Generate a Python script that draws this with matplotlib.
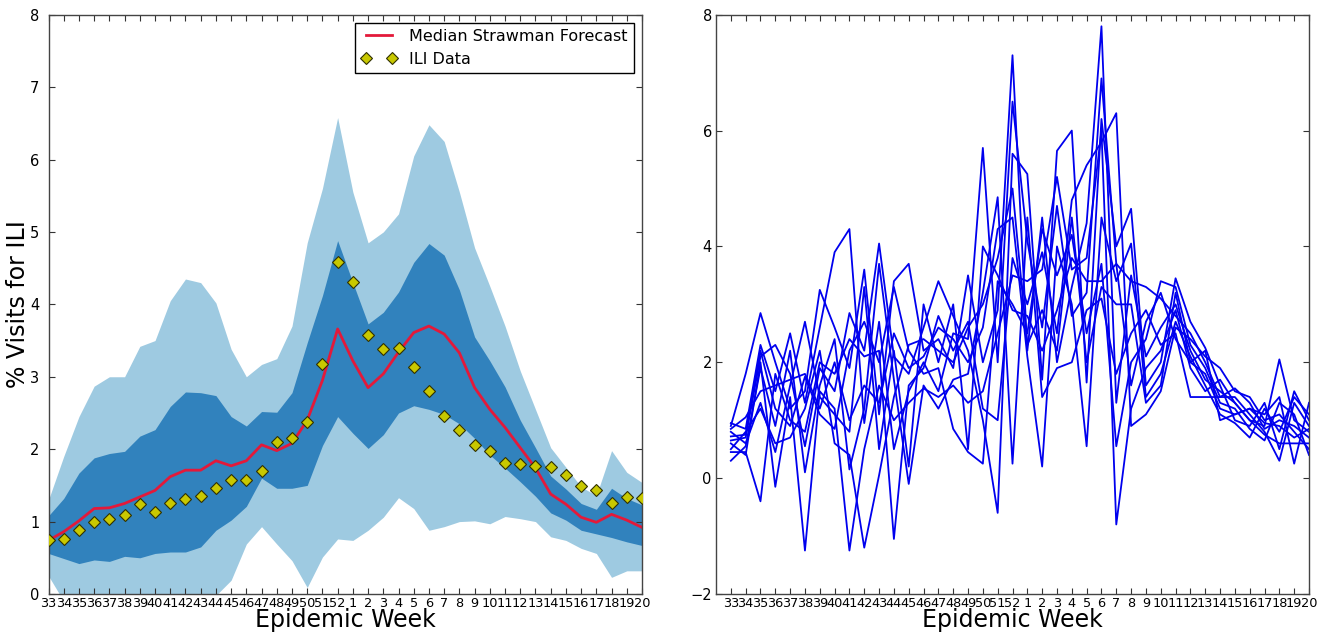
import matplotlib
matplotlib.use("Agg")
import matplotlib.pyplot as plt
import numpy as np

# Epidemic weeks of the season (33..52, then 1..20)
week_labels = [str(w) for w in list(range(33, 53)) + list(range(1, 21))]

# Observed ILI (% of visits)
ili_data = [0.74, 0.76, 0.88, 0.99, 1.04, 1.09, 1.24, 1.13, 1.26, 1.31,
            1.36, 1.46, 1.57, 1.58, 1.70, 2.10, 2.15, 2.37, 3.18, 4.59,
            4.31, 3.57, 3.38, 3.40, 3.13, 2.81, 2.46, 2.27, 2.06, 1.98,
            1.81, 1.79, 1.77, 1.75, 1.65, 1.49, 1.43, 1.25, 1.34, 1.33]

# Median strawman forecast
median_forecast = [0.74, 0.86, 1.01, 1.18, 1.19, 1.25, 1.34, 1.43, 1.62, 1.71,
                   1.71, 1.84, 1.77, 1.84, 2.06, 1.98, 2.08, 2.40, 2.95, 3.66,
                   3.22, 2.85, 3.04, 3.34, 3.61, 3.70, 3.59, 3.33, 2.85, 2.55,
                   2.30, 2.02, 1.74, 1.38, 1.24, 1.06, 0.99, 1.10, 1.02, 0.92]

# Inner (dark) interval
inner_upper = [1.08, 1.32, 1.67, 1.88, 1.94, 1.97, 2.18, 2.27, 2.59, 2.79,
               2.78, 2.74, 2.45, 2.32, 2.52, 2.51, 2.78, 3.47, 4.12, 4.88,
               4.30, 3.73, 3.89, 4.17, 4.58, 4.84, 4.68, 4.20, 3.55, 3.22,
               2.86, 2.40, 2.02, 1.63, 1.45, 1.25, 1.17, 1.46, 1.32, 1.23]
inner_lower = [0.56, 0.49, 0.42, 0.47, 0.45, 0.52, 0.50, 0.56, 0.58, 0.58,
               0.65, 0.88, 1.02, 1.21, 1.60, 1.46, 1.46, 1.50, 2.05, 2.45,
               2.22, 2.01, 2.20, 2.50, 2.60, 2.55, 2.48, 2.35, 2.15, 1.92,
               1.74, 1.55, 1.35, 1.12, 1.02, 0.88, 0.83, 0.78, 0.72, 0.67]

# Outer (light) interval
outer_upper = [1.30, 1.90, 2.45, 2.87, 3.00, 3.00, 3.42, 3.50, 4.05, 4.35,
               4.30, 4.02, 3.38, 3.00, 3.17, 3.25, 3.70, 4.85, 5.60, 6.58,
               5.55, 4.85, 5.00, 5.25, 6.05, 6.48, 6.25, 5.55, 4.78, 4.25,
               3.70, 3.08, 2.55, 2.02, 1.75, 1.48, 1.36, 1.98, 1.68, 1.54]
outer_lower = [0.25, -0.10, -0.30, -0.40, -0.40, -0.35, -0.40, -0.35, -0.30, -0.30,
               -0.25, -0.02, 0.19, 0.69, 0.93, 0.69, 0.46, 0.09, 0.51, 0.76,
               0.74, 0.88, 1.06, 1.33, 1.18, 0.88, 0.93, 1.00, 1.01, 0.97,
               1.07, 1.04, 1.00, 0.79, 0.74, 0.63, 0.56, 0.23, 0.32, 0.32]

# Sampled trajectories
traj_0 = [0.90, 1.80, 2.85, 2.00, 1.20, 1.50, 3.25, 2.60, 1.90, 3.60,
          1.10, 3.40, 3.70, 2.20, 2.40, 1.90, 3.50, 2.00, 2.90, 7.30,
          2.20, 4.50, 2.00, 3.30, 4.40, 7.80, 1.30, 3.50, 2.10, 2.60,
          3.00, 2.20, 1.70, 1.50, 1.30, 1.00, 0.90, 2.05, 1.00, 0.80]
traj_1 = [0.95, 0.85, 2.30, 1.50, 2.50, 1.30, 2.60, 3.90, 4.30, 0.95,
          2.70, 0.50, 1.50, 2.00, 1.50, 2.50, 2.40, 5.70, 2.00, 6.50,
          4.10, 2.60, 4.70, 2.80, 3.20, 6.90, 3.70, 1.60, 2.70, 3.20,
          2.40, 2.00, 1.80, 1.20, 1.10, 1.20, 1.10, 1.40, 0.25, 1.30]
traj_2 = [0.65, 0.70, 2.10, 2.30, 1.80, 0.55, 1.90, 1.50, 2.85, 2.20,
          4.05, 2.10, 1.80, 2.60, 3.40, 2.80, 2.20, 1.00, -0.60, 5.60,
          5.25, 1.70, 5.65, 6.00, 1.65, 6.20, 4.00, 4.65, 1.60, 2.00,
          3.45, 2.70, 2.25, 1.60, 1.00, 0.90, 1.30, 0.50, 1.50, 1.00]
traj_3 = [0.80, 0.60, 1.30, 0.45, 1.60, 2.70, 1.40, 1.10, 0.80, 3.30,
          0.50, 2.20, 0.20, 3.00, 2.00, 3.00, 0.50, 4.00, 3.50, 2.90,
          2.80, 2.20, 2.90, 3.80, 3.40, 3.40, 3.70, 3.40, 3.30, 3.10,
          2.80, 2.50, 2.00, 1.40, 1.55, 1.30, 0.85, 1.00, 0.90, 0.70]
traj_4 = [0.45, 0.45, -0.40, 1.80, 1.00, 0.80, 2.00, 1.80, 2.40, 2.10,
          2.20, -1.05, 1.60, 1.90, 2.80, 2.20, 2.70, 1.20, 1.00, 3.80,
          3.00, 3.90, 2.50, 4.80, 5.40, 5.80, 6.30, 0.90, 1.10, 1.50,
          2.60, 2.40, 2.10, 1.90, 1.50, 1.40, 1.00, 1.10, 0.80, 0.50]
traj_5 = [0.30, 0.55, 1.90, 0.90, 2.20, 0.10, 1.60, 2.40, 0.15, 1.20,
          3.70, 1.70, -0.10, 1.60, 1.20, 1.70, 1.80, 3.20, 4.85, 0.25,
          4.50, 1.40, 1.90, 2.00, 2.90, 3.10, 1.80, 2.50, 2.90, 2.30,
          2.50, 1.40, 1.40, 1.40, 1.40, 1.10, 0.80, 0.30, 1.30, 0.90]
traj_6 = [0.72, 0.75, 2.20, 1.20, 0.90, 1.75, 1.10, 0.85, 2.20, 2.70,
          2.00, 3.30, 2.20, 1.80, 1.90, 0.85, 0.45, 0.25, 3.40, 3.00,
          2.50, 4.30, 3.50, 4.20, 2.50, 3.70, 0.55, 2.00, 2.40, 3.40,
          3.30, 2.30, 1.90, 1.30, 1.20, 0.85, 0.65, 1.30, 1.10, 0.40]
traj_7 = [0.85, 1.05, 1.50, 1.60, 1.70, 1.80, 1.20, 2.00, 1.00, 1.60,
          1.30, 2.50, 1.90, 2.10, 2.60, 2.40, 2.00, 2.60, 4.30, 4.50,
          2.10, 0.20, 4.00, 3.00, 0.55, 4.50, 3.40, 4.05, 1.40, 1.80,
          2.70, 2.10, 1.60, 1.10, 0.95, 0.70, 1.20, 0.80, 1.40, 1.10]
traj_8 = [0.60, 0.40, 2.00, -0.15, 1.40, -1.25, 1.50, 1.20, -1.25, 0.50,
          1.60, 1.00, 1.30, 1.55, 1.40, 1.60, 1.30, 1.50, 2.50, 3.50,
          3.40, 3.60, 5.20, 3.60, 3.80, 6.00, -0.80, 1.20, 1.90, 2.20,
          2.90, 1.90, 1.50, 1.70, 1.30, 1.00, 0.75, 0.60, 0.60, 0.60]
traj_9 = [0.50, 0.80, 1.20, 0.60, 0.70, 1.20, 2.20, 0.60, 0.40, -1.20,
          0.05, 1.40, 2.30, 2.40, 2.20, 2.00, 2.60, 3.00, 3.80, 5.00,
          2.30, 2.90, 2.20, 4.50, 2.00, 3.30, 3.00, 3.00, 1.30, 1.60,
          3.20, 2.00, 2.20, 1.00, 1.10, 1.20, 0.95, 0.90, 0.70, 0.85]
trajectories = [traj_0, traj_1, traj_2, traj_3, traj_4,
                traj_5, traj_6, traj_7, traj_8, traj_9]

x = np.arange(len(week_labels))

plt.rcParams['font.family'] = ['DejaVu Sans']

fig = plt.figure(figsize=(13.17, 6.36), dpi=100)
W, H = 1317.0, 636.0
ax1 = fig.add_axes([48.5 / W, 42 / H, (642 - 48.5) / W, (594 - 14.7) / H])
ax2 = fig.add_axes([716 / W, 42 / H, (1309 - 716) / W, (594 - 14.7) / H])

light_blue = '#9ecae1'
dark_blue = '#3182bd'

# Left panel: forecast intervals, median and observed data
ax1.fill_between(x, outer_lower, outer_upper, color=light_blue, linewidth=0)
ax1.fill_between(x, inner_lower, inner_upper, color=dark_blue, linewidth=0)
ax1.plot(x, median_forecast, color='#e3193a', linewidth=2.0,
         label='Median Strawman Forecast')
ax1.plot(x, ili_data, linestyle='none', marker='D', markersize=6.5,
         markerfacecolor='#c8c800', markeredgecolor='#303000',
         markeredgewidth=0.8, label='ILI Data', zorder=5)
ax1.set_xlim(0, len(x) - 1)
ax1.set_ylim(0, 8)
ax1.set_yticks(range(0, 9))
leg = ax1.legend(loc='upper right', numpoints=2, fontsize=11.5,
                 fancybox=False, framealpha=1, edgecolor='black',
                 borderaxespad=0.5, handlelength=2.2)
leg.get_frame().set_linewidth(1.0)

# Right panel: sampled trajectories
for traj in trajectories:
    ax2.plot(x, traj, color='#0000ee', linewidth=1.3)
ax2.set_xlim(-1, len(x) - 1)
ax2.set_ylim(-2, 8)
ax2.set_yticks(range(-2, 9, 2))

for ax in (ax1, ax2):
    ax.set_xticks(x)
    ax.set_xticklabels(week_labels, fontsize=9.3)
    ax.set_xlabel('Epidemic Week', fontsize=17, labelpad=-1)
    ax.tick_params(axis='both', direction='in', top=True, right=True,
                   length=4, width=0.8, color='#333333')
    ax.tick_params(axis='x', pad=2)
    ax.tick_params(axis='y', labelsize=10.5, pad=3)
    for sp in ax.spines.values():
        sp.set_color('#444444')
        sp.set_linewidth(1.0)

# Keep the "0" of the left axis clear of the first week label
ax1.tick_params(axis='y', pad=6.5)
ax1.set_ylabel('% Visits for ILI', fontsize=17, labelpad=0)

fig.savefig('out.png', dpi=100)
